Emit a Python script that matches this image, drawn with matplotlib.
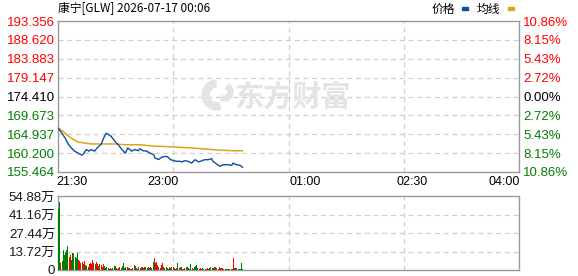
import matplotlib
matplotlib.use("Agg")
import matplotlib.pyplot as plt
from matplotlib.patches import Wedge
from matplotlib.transforms import blended_transform_factory, IdentityTransform

# ---------------- data ----------------
title = "康宁[GLW] 2026-07-17 00:06"
price_ticks = [193.356, 188.620, 183.883, 179.147, 174.410, 169.673, 164.937, 160.200, 155.464]
price_tick_labels = ["193.356", "188.620", "183.883", "179.147", "174.410",
                     "169.673", "164.937", "160.200", "155.464"]
pct_tick_labels = ["10.86%", "8.15%", "5.43%", "2.72%", "0.00%",
                   "2.72%", "5.43%", "8.15%", "10.86%"]
time_labels = ["21:30", "23:00", "01:00", "02:30", "04:00"]
vol_ticks = [0, 13.72, 27.44, 41.16, 54.88]
vol_tick_labels = ["0", "13.72万", "27.44万", "41.16万", "54.88万"]

price_min = [0, 3, 6, 9, 12, 14, 17, 20, 21, 23, 24, 26, 28, 31, 33, 36, 37, 38, 40, 41,
             43, 45, 48, 51, 54, 57, 59, 61, 62, 65, 68, 69, 72, 75, 78, 81, 82, 85, 86, 88,
             91, 93, 95, 98, 100, 103, 105, 107, 110, 113, 116, 119, 122, 124, 127, 130,
             131, 134, 137, 140, 144, 147, 148, 151, 154, 156]
price_val = [166.5, 165.3, 164.0, 162.3, 161.3, 160.7, 160.2, 159.7, 159.8, 160.7, 161.1,
             160.7, 161.1, 160.7, 161.5, 162.3, 162.7, 163.6, 164.8, 165.2, 164.8, 164.4,
             163.2, 162.3, 161.1, 160.2, 161.5, 161.1, 160.7, 161.1, 160.8, 161.3, 160.8,
             160.7, 160.2, 159.8, 159.0, 158.6, 158.8, 159.2, 159.4, 159.2, 158.6, 158.3,
             158.15, 158.15, 158.0, 158.3, 158.15, 157.7, 158.55, 158.0, 158.3, 158.55,
             158.55, 158.8, 158.15, 157.5, 156.9, 157.3, 157.3, 157.15, 157.7, 157.3,
             157.15, 156.65]

avg_min = [0, 4, 9, 13, 17, 23, 28, 37, 48, 57, 69, 80, 86, 95, 103, 113, 122, 132, 140, 148, 156]
avg_val = [166.6, 165.7, 164.4, 163.6, 163.0, 162.7, 162.5, 162.5, 162.5, 162.3, 162.3,
           162.0, 161.9, 161.8, 161.65, 161.5, 161.3, 161.05, 160.9, 160.8, 160.8]

volume = [45.3, 50.2, 5.4, 6.6, 14.8, 10.9, 13.3, 14.8, 17.7, 9.8, 10.9, 7.4, 12.3, 12.3,
          9.8, 9.1, 12.3, 7.4, 6.6, 5.4, 5.9, 4.1, 6.6, 3.5, 3.0, 2.5, 4.1, 5.4, 4.1, 7.4,
          5.4, 4.1, 5.9, 4.1, 3.0, 4.1, 3.5, 2.5, 4.1, 3.0, 1.6, 2.5, 1.6, 1.0, 1.6, 0.5,
          1.6, 3.0, 3.0, 1.6, 0.7, 1.6,
          2.0, 1.2, 3.0, 4.9, 1.2, 2.5, 2.5, 1.7, 1.2, 0.5, 0.5, 1.2, 3.7, 3.0, 1.7, 0.7,
          2.0, 1.2, 2.5, 2.0, 1.2, 2.5, 2.0, 1.2, 2.0, 1.7, 2.5, 1.2, 6.2, 9.1, 4.9, 6.2,
          3.7, 2.5, 1.2, 3.7, 4.9, 2.5, 1.2, 2.5, 1.2, 0.5, 2.0, 1.2, 2.5, 2.0, 1.2, 0.5,
          1.2, 5.4, 1.2, 2.0, 2.5, 0.5, 0.5, 1.2, 2.5, 2.0, 1.2, 0.5, 4.4, 1.2, 0.5, 2.5,
          3.0, 3.7, 1.2, 0.5, 1.7, 0.5, 1.2, 0.5, 0.5, 0.5, 1.2, 0.5, 1.7, 2.5, 1.7, 1.2,
          2.0, 2.5, 1.7, 0.5, 2.5, 1.2, 1.7, 1.2, 0.5, 0.5, 0.5, 0.5, 0.5, 0.5, 0.5, 0.5,
          9.1, 1.2, 1.2, 1.2, 0.5, 0.5, 0.5, 5.4, 0.5]
vol_dir = ("ggrgggggg" "rrggggggrrrrgrgggrrrrrgrrrgrrrgggggrrgggrg"
           "grrggggrrrrgggrrgggrrggrggrrggrgrrrgrrrggggggrrgrrggrggrrgggggrgggggrrrgr"
           "grrrggggrrrggrrrrggggrrrrggrggggg")

# ---------------- style ----------------
RED = "#ff0000"
GREEN = "#008000"
BLUE = "#0b4f9e"
ORANGE = "#e0a11c"
FRAME = "#9a9a9a"
GRID = "#cfcfcf"
WM = "#e4e4e6"
NUMFONT = ["Liberation Sans", "Noto Sans CJK SC"]
CJK = ["Noto Sans CJK SC", "DejaVu Sans"]

W, H = 578, 276
fig = plt.figure(figsize=(W / 100, H / 100), dpi=100)

def frac(x0, y0, x1, y1):
    return [x0 / W, 1 - y1 / H, (x1 - x0) / W, (y1 - y0) / H]

ax = fig.add_axes(frac(58, 21, 519, 172))
axv = fig.add_axes(frac(58, 196, 519, 270))

T_END = 390
for a in (ax, axv):
    a.set_xlim(0, T_END)
    for s in a.spines.values():
        s.set_color(FRAME)
        s.set_linewidth(1.0)
    a.tick_params(length=0)
    a.set_xticks([])
    for q in (0.25, 0.5, 0.75):
        a.axvline(T_END * q, color=GRID, lw=0.9, ls=(0, (4, 3)), zorder=0)

# price panel
ax.set_ylim(price_ticks[-1], price_ticks[0])
ax.set_yticks(price_ticks)
ax.set_yticklabels(price_tick_labels, fontfamily=NUMFONT, fontsize=9.5)
ax.tick_params(axis="y", pad=2)
n = len(price_ticks)
mid = n // 2
for i, lab in enumerate(ax.get_yticklabels()):
    lab.set_color(RED if i < mid else ("#000000" if i == mid else GREEN))
for v in price_ticks[1:-1]:
    ax.axhline(v, color=GRID, lw=0.9, ls=(0, (4, 3)), zorder=0)

axr = ax.twinx()
axr.set_ylim(ax.get_ylim())
axr.set_yticks(price_ticks)
axr.set_yticklabels(pct_tick_labels, fontfamily=NUMFONT, fontsize=9.5)
axr.tick_params(length=0, pad=3)
for i, lab in enumerate(axr.get_yticklabels()):
    lab.set_color(RED if i < mid else ("#000000" if i == mid else GREEN))
for s in axr.spines.values():
    s.set_visible(False)

# watermark (logo swoosh + text)
ax.text((292 - 58) / 461, 0.5, "东方财富", transform=ax.transAxes, ha="center", va="center",
        fontsize=21, fontweight="bold", color=WM, family=CJK, zorder=0.5)
logo = Wedge((217, H - 95), 15, 95, 285, width=7, transform=IdentityTransform(),
             color=WM, zorder=0.5)
fig.patches.append(logo)
logo2 = Wedge((224, H - 92), 9, 250, 60, width=5, transform=IdentityTransform(),
              color=WM, zorder=0.5)
fig.patches.append(logo2)

ax.plot(avg_min, avg_val, color=ORANGE, lw=1.1, zorder=3)
ax.plot(price_min, price_val, color=BLUE, lw=1.0, zorder=4)

# time labels
trans = blended_transform_factory(ax.transAxes, fig.transFigure)
tl_pos = [(72 - 58) / 461, (163 - 58) / 461, (305.5 - 58) / 461, (412.5 - 58) / 461, (504 - 58) / 461]
for p, t in zip(tl_pos, time_labels):
    ax.text(p, 1 - 182 / H, t, transform=trans, ha="center", va="center",
            fontsize=9, family=NUMFONT, color="#000000")

# volume panel
axv.set_ylim(0, vol_ticks[-1])
axv.set_yticks(vol_ticks)
axv.set_yticklabels(vol_tick_labels, fontfamily=NUMFONT, fontsize=9.5, color="#1a1a1a")
axv.tick_params(axis="y", pad=2)
for v in vol_ticks[1:-1]:
    axv.axhline(v, color=GRID, lw=0.9, ls=(0, (4, 3)), zorder=0)
vx = list(range(len(volume)))
vc = [RED if d == "r" else GREEN for d in vol_dir[:len(volume)]]
vc += [GREEN] * (len(volume) - len(vc))
axv.bar(vx, volume, width=0.85, color=vc, align="edge", zorder=3, linewidth=0)

# title and legend
fig.text(58 / W, 1 - 9 / H, title, ha="left", va="center", fontsize=8.5, family=CJK)
fig.text(443 / W, 1 - 9 / H, "价格", ha="center", va="center", fontsize=8.5, family=CJK)
fig.text(488 / W, 1 - 9 / H, "均线", ha="center", va="center", fontsize=8.5, family=CJK)
fig.patches.append(plt.Rectangle((462 / W, 1 - 10 / H), 6 / W, 3 / H,
                                 transform=fig.transFigure, color=BLUE, figure=fig))
fig.patches.append(plt.Rectangle((508 / W, 1 - 10 / H), 6 / W, 3 / H,
                                 transform=fig.transFigure, color=ORANGE, figure=fig))

fig.savefig("out.png", dpi=100)
